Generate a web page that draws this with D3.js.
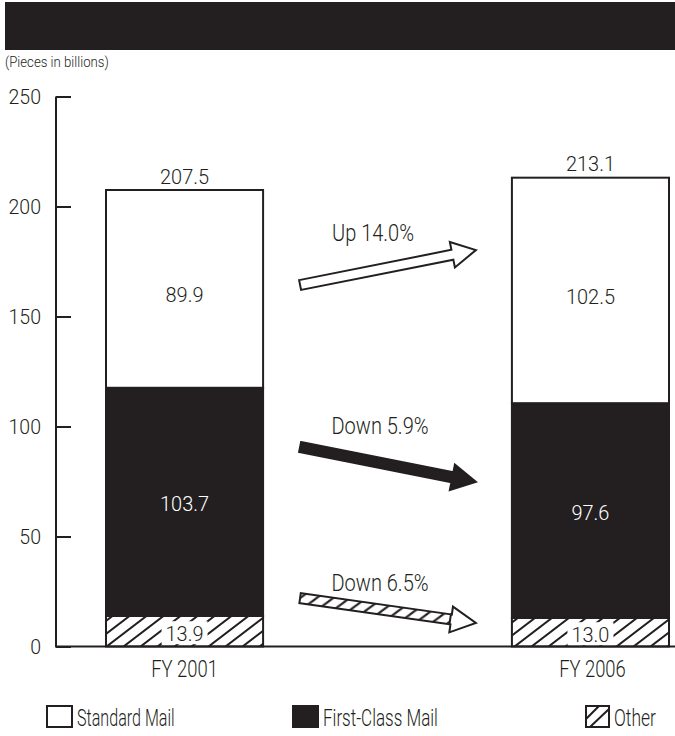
<!DOCTYPE html>
<html>
<head>
<meta charset="utf-8">
<script src="https://cdn.jsdelivr.net/npm/d3@7"></script>
<style>
  html, body { margin: 0; padding: 0; background: #fff; }
  svg { display: block; }
  text { font-family: Roboto, "Liberation Sans", sans-serif; font-weight: 300; fill: #231f20; }
</style>
</head>
<body>
<svg id="chart" width="675" height="736"></svg>
<script>
// Mail volume by class, pieces in billions
const years = ["FY 2001", "FY 2006"];
const otherMail = [13.9, 13.0];
const firstClassMail = [103.7, 97.6];
const standardMail = [89.9, 102.5];
const totals = [207.5, 213.1];
const yTicks = [0, 50, 100, 150, 200, 250];
const changeLabels = ["Up 14.0%", "Down 5.9%", "Down 6.5%"];
// arrow end heights in axis units: [tail, tip]
const arrowLevels = [[164.3, 180.2], [90.7, 74.8], [22.0, 10.7]];
const legendLabels = ["Standard Mail", "First-Class Mail", "Other"];

const INK = "#231f20";
const svg = d3.select("#chart");

// Condensed-looking label: horizontally squeezed text anchored at (x, y)
function label(parent, x, y, str, opt) {
  const o = Object.assign({ size: 21, sx: 0.9, anchor: "middle", fill: INK, dy: "0.36em" }, opt || {});
  const g = parent.append("g").attr("transform", `translate(${x},${y}) scale(${o.sx},1)`);
  g.append("text").attr("dy", o.dy).attr("text-anchor", o.anchor)
    .attr("font-size", o.size).style("fill", o.fill).text(str);
  return g;
}

const defs = svg.append("defs");
const hatch = defs.append("pattern")
  .attr("id", "hatch").attr("patternUnits", "userSpaceOnUse")
  .attr("width", 17).attr("height", 13);
hatch.append("rect").attr("width", 17).attr("height", 13).attr("fill", "#fff");
hatch.append("path").attr("d", "M-1,13.8 L18,-0.8 M-18,13.8 L1,-0.8 M16,13.8 L35,-0.8")
  .attr("stroke", INK).attr("stroke-width", 2);

const hatchSmall = defs.append("pattern")
  .attr("id", "hatchSmall").attr("patternUnits", "userSpaceOnUse")
  .attr("width", 14).attr("height", 14);
hatchSmall.append("rect").attr("width", 14).attr("height", 14).attr("fill", "#fff");
hatchSmall.append("path").attr("d", "M-1,15 L15,-1 M-15,15 L1,-1 M13,15 L29,-1")
  .attr("stroke", INK).attr("stroke-width", 2.2);

// Header band
svg.append("rect").attr("x", 5).attr("y", 2).attr("width", 670).attr("height", 48).attr("fill", INK);

label(svg, 5, 62, "(Pieces in billions)", { size: 15, sx: 0.88, anchor: "start" });

const y = d3.scaleLinear().domain([0, 250]).range([646.5, 96.5]);
const x = d3.scaleBand().domain(years).range([106, 669]).paddingInner(0.613).paddingOuter(0);

// Y axis with inward ticks
const yAxis = svg.append("g").attr("transform", "translate(56,0)")
  .call(d3.axisRight(y).tickValues(yTicks).tickSize(15).tickFormat(""));
yAxis.select(".domain").attr("d", `M0,${y(250)}V${y(0)}`).attr("stroke", INK).attr("stroke-width", 2);
yAxis.selectAll(".tick line").attr("stroke", INK).attr("stroke-width", 2);
const tickLabels = svg.append("g");
yTicks.forEach(t => label(tickLabels, 41, y(t), t, { size: 21, sx: 0.93, anchor: "end" }));

// Stacked bars
const rows = years.map((yr, i) => ({
  year: yr,
  segs: [
    { key: "other", v0: 0, v1: otherMail[i], val: otherMail[i] },
    { key: "first", v0: otherMail[i], v1: otherMail[i] + firstClassMail[i], val: firstClassMail[i] },
    { key: "standard", v0: otherMail[i] + firstClassMail[i], v1: otherMail[i] + firstClassMail[i] + standardMail[i], val: standardMail[i] }
  ],
  total: totals[i]
}));
const fills = { other: "url(#hatch)", first: INK, standard: "#fff" };

const barG = svg.append("g").selectAll("g").data(rows).join("g");
barG.selectAll("rect").data(d => d.segs.map(s => ({ ...s, year: d.year }))).join("rect")
  .attr("x", d => x(d.year)).attr("width", x.bandwidth())
  .attr("y", d => y(d.v1)).attr("height", d => y(d.v0) - y(d.v1))
  .attr("fill", d => fills[d.key]).attr("stroke", INK).attr("stroke-width", 2);

// segment value labels, totals and category names
barG.each(function(d) {
  const g = d3.select(this);
  const cx = x(d.year) + x.bandwidth() / 2;
  d.segs.forEach(s => {
    const cy = (y(s.v0) + y(s.v1)) / 2 + (s.key === "standard" ? 6 : 2);
    if (s.key === "other") {
      g.append("rect").attr("x", cx - 23).attr("y", cy - 12).attr("width", 46).attr("height", 23).attr("fill", "#fff");
    }
    label(g, cx, cy, s.val.toFixed(1), { size: 21, sx: 0.95, fill: s.key === "first" ? "#fff" : INK });
  });
  label(g, cx, y(d.total) - 14, d.total.toFixed(1), { size: 21, sx: 0.95 });
  label(g, cx + (d.year === "FY 2006" ? 2 : 0), 669, d.year, { size: 23, sx: 0.8 });
});

// Baseline
svg.append("line").attr("x1", 55).attr("x2", 675).attr("y1", y(0)).attr("y2", y(0))
  .attr("stroke", INK).attr("stroke-width", 2);

// Change arrows between the bars
const ax0 = x(years[0]) + x.bandwidth() + 37;
const ax1 = x(years[1]) - 36;
const arrowStyles = ["open", "solid", "hatched"];
const arrowDims = [{ sh: 5, hh: 13, hl: 24 }, { sh: 5, hh: 13, hl: 24 }, { sh: 5, hh: 13, hl: 25 }];
const labelPos = [[373, 233], [380, 426], [380, 583]];

arrowLevels.forEach((lv, i) => {
  const x0 = ax0, y0 = y(lv[0]), x1 = ax1, y1 = y(lv[1]);
  const len = Math.hypot(x1 - x0, y1 - y0);
  const ang = Math.atan2(y1 - y0, x1 - x0) * 180 / Math.PI;
  const { sh, hh, hl } = arrowDims[i];
  const g = svg.append("g").attr("transform", `translate(${x0},${y0}) rotate(${ang})`);
  const style = arrowStyles[i];
  if (style === "hatched") {
    g.append("rect").attr("x", 0).attr("y", -sh).attr("width", len - hl).attr("height", 2 * sh)
      .attr("fill", "url(#hatchSmall)").attr("stroke", INK).attr("stroke-width", 2);
    g.append("path").attr("d", `M${len - hl},${-hh} L${len},0 L${len - hl},${hh} L${len - hl},${sh} L${len - hl - 1},${sh} L${len - hl - 1},${-sh} L${len - hl},${-sh} Z`)
      .attr("fill", "#fff").attr("stroke", INK).attr("stroke-width", 2).attr("stroke-linejoin", "miter");
  } else {
    const pts = [[0, -sh], [len - hl, -sh], [len - hl, -hh], [len, 0], [len - hl, hh], [len - hl, sh], [0, sh]];
    g.append("path").attr("d", "M" + pts.map(p => p.join(",")).join("L") + "Z")
      .attr("fill", style === "solid" ? INK : "#fff")
      .attr("stroke", INK).attr("stroke-width", 2).attr("stroke-linejoin", "miter");
  }
  label(svg, labelPos[i][0], labelPos[i][1], changeLabels[i], { size: 23, sx: 0.87 });
});

// Legend
const legendX = [47, 293, 586];
const legendFill = ["#fff", INK, "hatchIcon"];
const legendSx = [0.7, 0.74, 0.76];
legendLabels.forEach((lab, i) => {
  const g = svg.append("g").attr("transform", `translate(${legendX[i]},706)`);
  const w = i === 2 ? 23 : 25;
  g.append("rect").attr("x", 0).attr("y", 0).attr("width", w).attr("height", 21)
    .attr("fill", legendFill[i] === "hatchIcon" ? "#fff" : legendFill[i])
    .attr("stroke", INK).attr("stroke-width", 2);
  if (legendFill[i] === "hatchIcon") {
    g.append("path").attr("d", `M0,13 L13,0 M4,21 L23,3`).attr("stroke", INK).attr("stroke-width", 2);
  }
  label(g, w + 5, 11.5, lab, { size: 23, sx: legendSx[i], anchor: "start" });
});
</script>
</body>
</html>
